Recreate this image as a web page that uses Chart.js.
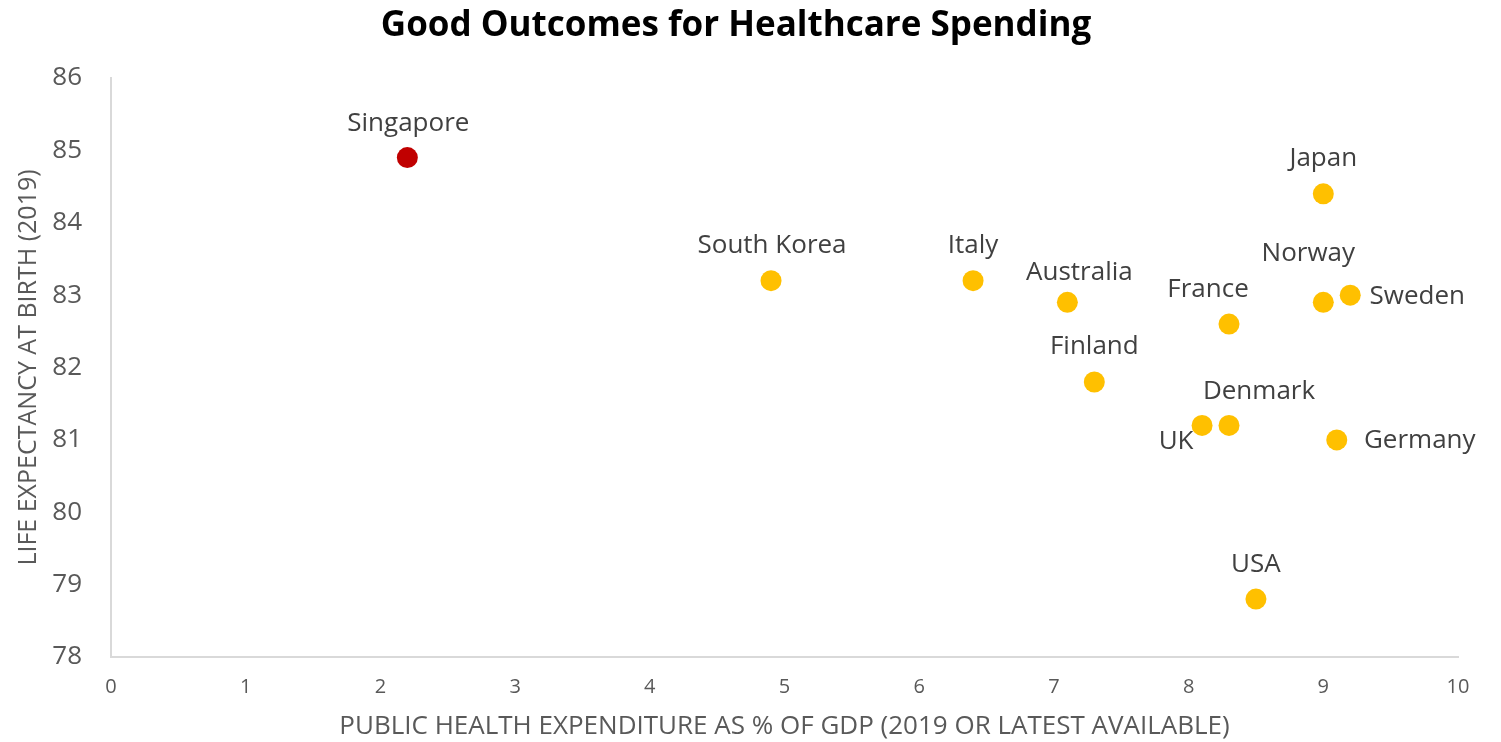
<!DOCTYPE html>
<html>
<head>
<meta charset="utf-8">
<title>Good Outcomes for Healthcare Spending</title>
<script src="https://cdn.jsdelivr.net/npm/chart.js@4.4.1/dist/chart.umd.min.js"></script>
<style>
    html, body { margin: 0; padding: 0; background: #fff; }
    #wrap { width: 1501px; height: 742px; }
</style>
</head>
<body>
<div id="wrap"><canvas id="scatter" width="1501" height="742"></canvas></div>
<script>
// Countries with public health spend (% of GDP) and life expectancy at birth
const countries = ['Singapore', 'South Korea', 'Italy', 'Australia', 'France', 'Finland',
    'Denmark', 'UK', 'USA', 'Japan', 'Norway', 'Sweden', 'Germany'];
const spending = [2.2, 4.9, 6.4, 7.1, 8.3, 7.3, 8.3, 8.1, 8.5, 9.0, 9.0, 9.2, 9.1];
const lifeExpectancy = [84.9, 83.2, 83.2, 82.9, 82.6, 81.8, 81.2, 81.2, 78.8, 84.4, 82.9, 83.0, 81.0];
const xTicks = [0, 1, 2, 3, 4, 5, 6, 7, 8, 9, 10];
const yTicks = [78, 79, 80, 81, 82, 83, 84, 85, 86];

const FONT = '"Open Sans", "Liberation Sans", sans-serif';
const highlight = 'Singapore';

// label placement relative to each dot (pixels)
const labelOffsets = {
    'Singapore': [1, -34], 'South Korea': [1, -35], 'Italy': [0, -35],
    'Australia': [12, -30], 'France': [-21, -34], 'Finland': [0, -35],
    'Denmark': [30, -34], 'UK': [-26, 16], 'USA': [0, -35], 'Japan': [0, -35],
    'Norway': [-15, -49], 'Sweden': [67, 1], 'Germany': [83, 1]
};

const points = countries.map((c, i) => ({ x: spending[i], y: lifeExpectancy[i] }));

// draws the country names next to each dot
const pointLabels = {
    id: 'pointLabels',
    afterDatasetsDraw(chart) {
        const ctx = chart.ctx;
        const meta = chart.getDatasetMeta(0);
        ctx.save();
        ctx.font = '26px ' + FONT;
        ctx.fillStyle = '#404040';
        ctx.textAlign = 'center';
        ctx.textBaseline = 'middle';
        meta.data.forEach((el, i) => {
            const off = labelOffsets[countries[i]] || [0, -35];
            ctx.fillText(countries[i], el.x + off[0], el.y + off[1]);
        });
        ctx.restore();
    }
};

// chart heading
const heading = {
    id: 'heading',
    afterDraw(chart) {
        const ctx = chart.ctx;
        ctx.save();
        ctx.font = 'bold 35px ' + FONT;
        ctx.fillStyle = '#000';
        ctx.textAlign = 'center';
        ctx.textBaseline = 'middle';
        ctx.fillText('Good Outcomes for Healthcare Spending', 736, 26);
        ctx.restore();
    }
};

new Chart(document.getElementById('scatter'), {
    type: 'scatter',
    data: {
        datasets: [{
            data: points,
            pointRadius: 10.5,
            pointHoverRadius: 10.5,
            borderWidth: 0,
            backgroundColor: countries.map(c => c === highlight ? '#C00000' : '#FFC000')
        }]
    },
    options: {
        responsive: false,
        animation: false,
        layout: { padding: { top: 78, right: 43, left: 0, bottom: 0 } },
        plugins: {
            legend: { display: false },
            tooltip: { enabled: false },
            title: { display: false }
        },
        scales: {
            x: {
                type: 'linear',
                min: xTicks[0],
                max: xTicks[xTicks.length - 1],
                afterBuildTicks: s => { s.ticks = xTicks.map(v => ({ value: v })); },
                afterFit: s => { s.height = 85; },
                grid: { display: false, drawTicks: false },
                border: { display: true, color: '#d9d9d9', width: 2 },
                ticks: { color: '#595959', font: { family: FONT, size: 20 }, padding: 18 },
                title: {
                    display: true,
                    text: 'PUBLIC HEALTH EXPENDITURE AS % OF GDP (2019 OR LATEST AVAILABLE)',
                    color: '#595959',
                    font: { family: FONT, size: 26 },
                    padding: { top: 0, bottom: 0 }
                }
            },
            y: {
                type: 'linear',
                min: yTicks[0],
                max: yTicks[yTicks.length - 1],
                afterBuildTicks: s => { s.ticks = yTicks.map(v => ({ value: v })); },
                afterFit: s => { s.width = 111; },
                grid: { display: false, drawTicks: false },
                border: { display: true, color: '#d9d9d9', width: 2 },
                ticks: { color: '#595959', font: { family: FONT, size: 26 }, padding: 29 },
                title: {
                    display: true,
                    text: 'LIFE EXPECTANCY AT BIRTH (2019)',
                    color: '#595959',
                    font: { family: FONT, size: 25 },
                    padding: { top: 14, bottom: 0 }
                }
            }
        }
    },
    plugins: [pointLabels, heading]
});
</script>
</body>
</html>
